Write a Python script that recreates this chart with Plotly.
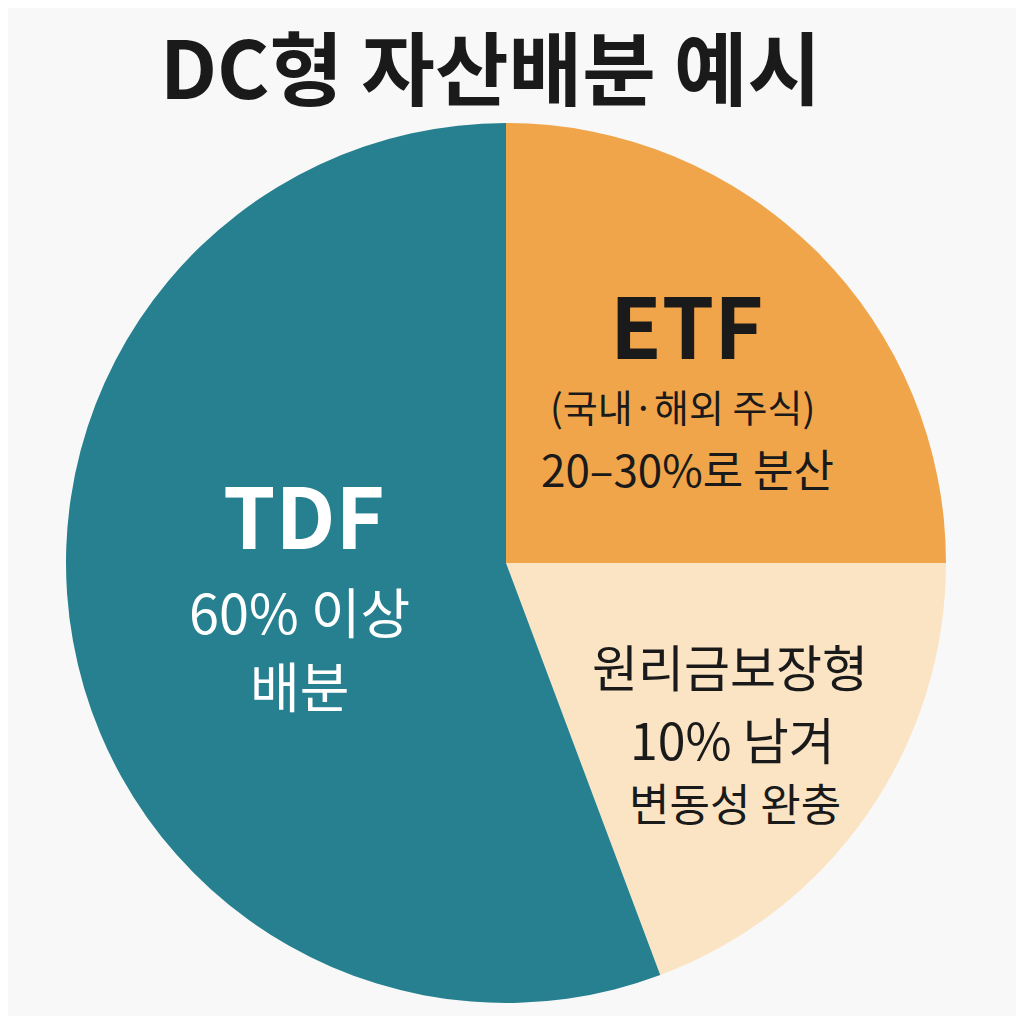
import plotly.graph_objects as go

categories = ["ETF", "원리금보장형", "TDF"]
values = [25.0, 19.3, 55.7]
colors = ["#F0A54A", "#FAE4C4", "#26808F"]

F = "Noto Sans CJK KR"
W = 1008
def px(x): return (x - 8) / W
def py(y): return 1 - (y - 8) / W

fig = go.Figure(go.Pie(
    labels=categories, values=values, sort=False, direction="clockwise",
    rotation=0, textinfo="none", hoverinfo="label+percent",
    marker=dict(colors=colors, line=dict(width=0)),
    domain=dict(x=[px(66), px(946)], y=[py(1003), py(123)]),
    showlegend=False))

def ann(x, y, text, size, color, bold=False):
    fig.add_annotation(x=px(x), y=py(y), xref="paper", yref="paper",
        xanchor="center", yanchor="middle",
        text=f"<b>{text}</b>" if bold else text, showarrow=False,
        font=dict(family=F, size=size, color=color))

ann(490, 64, "DC형 자산배분 예시", 80, "#1a1a1a", True)
ann(686, 322, "ETF", 84, "#1a1a1a", True)
ann(682, 406, "(국내·해외 주식)", 38, "#1a1a1a")
ann(687, 468, "20–30%로 분산", 44, "#1a1a1a")
ann(304, 512, "TDF", 84, "#ffffff", True)
ann(299, 610, "60% 이상", 54, "#ffffff")
ann(299, 684, "배분", 54, "#ffffff")
ann(730, 665, "원리금보장형", 50, "#1a1a1a")
ann(732, 738, "10% 남겨", 50, "#1a1a1a")
ann(735, 802, "변동성 완충", 44, "#1a1a1a")

fig.update_layout(width=W, height=W, margin=dict(l=0, r=0, t=0, b=0),
                  paper_bgcolor="#F8F8F8", plot_bgcolor="#F8F8F8")
fig.write_html("out.html")
